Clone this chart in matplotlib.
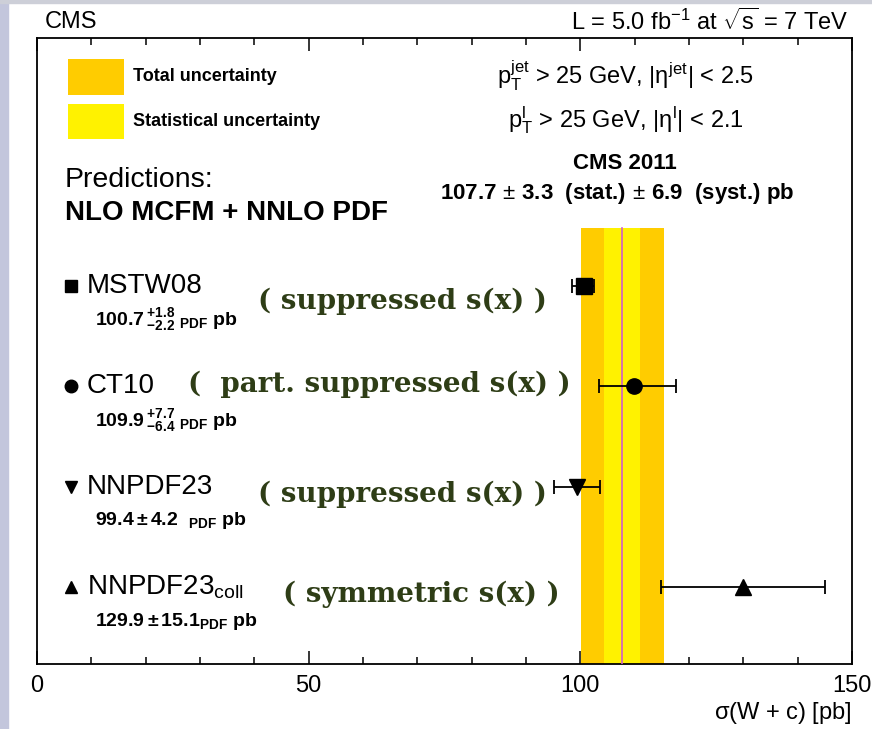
import numpy as np
import matplotlib
matplotlib.use("Agg")
import matplotlib.pyplot as plt
from matplotlib.patches import Rectangle
from matplotlib.ticker import MultipleLocator

plt.rcParams['font.family'] = ['Liberation Sans', 'DejaVu Sans']
plt.rcParams['mathtext.fontset'] = 'custom'
plt.rcParams['mathtext.rm'] = 'Liberation Sans'
plt.rcParams['mathtext.it'] = 'Liberation Sans'
plt.rcParams['mathtext.bf'] = 'Liberation Sans:bold'

# predictions (NLO MCFM + NNLO PDF)
models = ["MSTW08", "CT10", "NNPDF23", r"NNPDF23$_{\rm coll}$"]
xsec = [100.7, 109.9, 99.4, 129.9]
err_up = [1.8, 7.7, 4.2, 15.1]
err_dn = [2.2, 6.4, 4.2, 15.1]
markers = ['s', 'o', 'v', '^']
value_labels = [
    r"$\mathbf{100.7\,^{+1.8}_{-2.2}\ _{PDF}\ pb}$",
    r"$\mathbf{109.9\,^{+7.7}_{-6.4}\ _{PDF}\ pb}$",
    r"$\mathbf{99.4 \pm 4.2\ \ _{PDF}\ pb}$",
    r"$\mathbf{129.9 \pm 15.1_{PDF}\ pb}$",
]
notes = ["( suppressed s(x) )", "(  part. suppressed s(x) )",
         "( suppressed s(x) )", "( symmetric s(x) )"]
notes_x = [0.271, 0.185, 0.271, 0.302]
notes_dy = [-0.025, 0.003, -0.012, -0.012]

# CMS 2011 measurement
cms_val = 107.7
cms_stat = 3.3
cms_syst = 6.9
cms_tot = np.sqrt(cms_stat**2 + cms_syst**2)

fig = plt.figure(figsize=(8.72, 7.29), dpi=100)
fig.patches.append(Rectangle((0, 0), 8 / 872, 1, transform=fig.transFigure,
                             color='#c3c6dc', zorder=-1))
fig.patches.append(Rectangle((0, 1 - 3 / 729), 1, 3 / 729, transform=fig.transFigure,
                             color='#cdcfd8', zorder=-1))
ax = fig.add_axes([37 / 872, 65 / 729, 815 / 872, 626 / 729])

rows = 0.123 + 0.1605 * np.arange(len(models))[::-1]

# uncertainty bands
band_top = 0.696
ax.axvspan(cms_val - cms_tot, cms_val + cms_tot, ymin=0, ymax=band_top,
           color='#ffcc00', lw=0, zorder=1)
ax.axvspan(cms_val - cms_stat, cms_val + cms_stat, ymin=0, ymax=band_top,
           color='#fff200', lw=0, zorder=2)
ax.axvline(cms_val, ymin=0, ymax=band_top, color='#d05fc8', lw=1.2, zorder=3)

for i in range(len(models)):
    ax.errorbar(xsec[i], rows[i], xerr=[[err_dn[i]], [err_up[i]]], fmt=markers[i],
                color='black', ms=11, capsize=5, elinewidth=1.3, capthick=1.3, zorder=5)
    # label block
    ax.plot(0.042, rows[i], marker=markers[i], color='black', ms=9,
            transform=ax.transAxes, clip_on=False)
    ax.text(0.061, rows[i], models[i], transform=ax.transAxes, fontsize=20,
            va='center', ha='left')
    ax.text(0.071, rows[i] - 0.055, value_labels[i], transform=ax.transAxes,
            fontsize=14, va='center', ha='left')
    ax.text(notes_x[i], rows[i] + notes_dy[i], notes[i], transform=ax.transAxes,
            fontsize=20, fontweight='bold', family='DejaVu Serif', color='#2e3d16',
            va='center', ha='left')

# legend boxes
ax.add_patch(Rectangle((0.038, 0.909), 0.0687, 0.057, transform=ax.transAxes,
                       color='#ffcc00', lw=0))
ax.add_patch(Rectangle((0.038, 0.839), 0.0687, 0.056, transform=ax.transAxes,
                       color='#fff200', lw=0))
ax.text(0.118, 0.939, "Total uncertainty", transform=ax.transAxes, fontsize=13,
        fontweight='bold', va='center')
ax.text(0.118, 0.866, "Statistical uncertainty", transform=ax.transAxes, fontsize=13,
        fontweight='bold', va='center')

ax.text(0.722, 0.939, r"p$_{\rm T}^{\rm jet}$ > 25 GeV, |$\eta^{\rm jet}$| < 2.5",
        transform=ax.transAxes, fontsize=17, ha='center', va='center')
ax.text(0.722, 0.869, r"p$_{\rm T}^{\rm l}$ > 25 GeV, |$\eta^{\rm l}$| < 2.1",
        transform=ax.transAxes, fontsize=17, ha='center', va='center')
ax.text(0.721, 0.800, "CMS 2011", transform=ax.transAxes, fontsize=16,
        fontweight='bold', ha='center', va='center')
ax.text(0.712, 0.752, r"107.7$\,\pm\,$3.3  (stat.)$\,\pm\,$6.9  (syst.) pb",
        transform=ax.transAxes, fontsize=16, fontweight='bold', ha='center', va='center')

ax.text(0.034, 0.773, "Predictions:", transform=ax.transAxes, fontsize=20.5, va='center')
ax.text(0.034, 0.720, "NLO MCFM + NNLO PDF", transform=ax.transAxes, fontsize=20,
        fontweight='bold', va='center')

ax.text(0.0098, 1.026, "CMS", transform=ax.transAxes, fontsize=17, va='center')
ax.text(0.995, 1.026, r"L = 5.0 fb$^{-1}$ at $\sqrt{\rm s}$ = 7 TeV", transform=ax.transAxes,
        fontsize=17, va='center', ha='right')

ax.set_xlim(0, 150)
ax.set_ylim(0, 1)
ax.xaxis.set_major_locator(MultipleLocator(50))
ax.xaxis.set_minor_locator(MultipleLocator(10))
ax.tick_params(axis='x', which='both', direction='in', top=True, labelsize=17, pad=8)
ax.tick_params(axis='x', which='major', length=9.5, width=1.1)
ax.tick_params(axis='x', which='minor', length=5, width=1.1)
ax.set_yticks([])
for s in ax.spines.values():
    s.set_linewidth(1.3)
ax.set_xlabel(r"$\sigma$(W + c) [pb]", fontsize=17, loc='right', labelpad=2)

plt.savefig('out.png', dpi=100)
